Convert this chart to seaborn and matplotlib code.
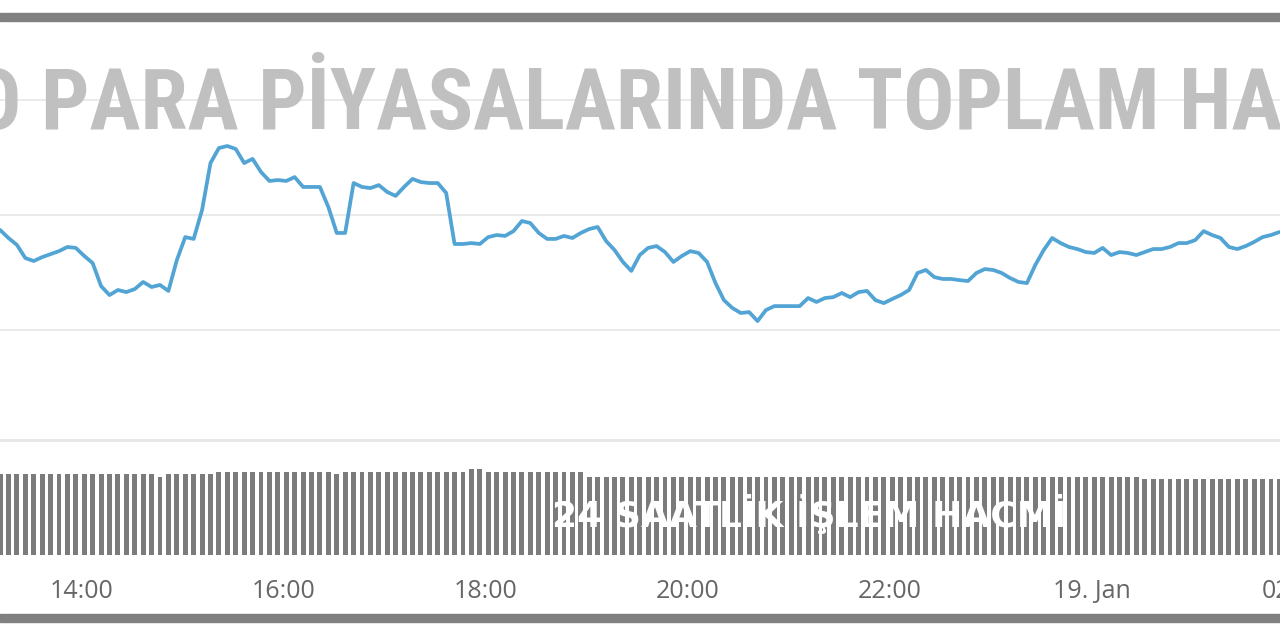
import numpy as np
import pandas as pd
import seaborn as sns
import matplotlib
matplotlib.use("Agg")
import matplotlib.pyplot as plt
from matplotlib.patches import Rectangle
from matplotlib import font_manager

# toplam piyasa degeri (milyar $), 5 dakikalik
cap_bn = [
    2043.5, 2040.0, 2037.0, 2031.3, 2030.0, 2031.7, 2033.0, 2034.3, 2036.1, 2035.7, 2032.2, 2029.1,
    2019.1, 2015.2, 2017.4, 2016.5, 2017.8, 2020.9, 2018.7, 2019.6, 2017.0, 2030.4, 2040.4, 2039.6,
    2052.2, 2072.6, 2079.1, 2080.0, 2078.7, 2072.6, 2074.4, 2068.7, 2064.8, 2065.2, 2064.8, 2066.5,
    2062.2, 2062.2, 2062.2, 2053.5, 2042.2, 2042.2, 2063.9, 2062.2, 2061.7, 2063.0, 2060.0, 2058.3,
    2062.2, 2065.7, 2064.3, 2063.9, 2063.9, 2059.6, 2037.4, 2037.4, 2037.8, 2037.4, 2040.4, 2041.3,
    2040.9, 2043.0, 2047.4, 2046.5, 2042.2, 2039.6, 2039.6, 2040.9, 2040.0, 2042.2, 2043.9, 2044.8,
    2038.7, 2034.8, 2029.6, 2025.7, 2032.6,
    2035.7, 2036.5, 2033.9, 2029.6, 2032.2, 2034.3, 2033.5, 2029.6, 2020.4, 2013.0, 2009.6, 2007.4,
    2007.8, 2003.9, 2008.7, 2010.4, 2010.4, 2010.4, 2010.4, 2013.9, 2012.2, 2013.9, 2014.3, 2016.1,
    2014.3, 2016.5, 2017.0, 2013.0, 2011.7, 2013.5, 2015.2, 2017.4, 2024.8, 2026.1, 2023.0, 2022.2,
    2022.2, 2021.7, 2021.3, 2024.8, 2026.5, 2026.1, 2024.8, 2022.6, 2020.9, 2020.4, 2028.3, 2034.8,
    2040.0, 2037.8, 2036.1, 2035.2, 2033.9, 2033.5, 2035.7, 2032.6, 2033.9, 2033.5, 2032.6, 2033.9,
    2035.2, 2035.2, 2036.1, 2037.8, 2037.8, 2039.1, 2043.0, 2041.3, 2040.0, 2036.1, 2035.2, 2036.5,
    2038.3, 2040.4, 2041.3, 2042.6,
]

# 24 saatlik islem hacmi (milyar $)
vol_bn = [
    100.0, 100.0, 100.0, 100.0, 100.0, 100.0, 100.0, 100.0, 100.0, 100.0, 100.0, 100.0,
    100.0, 100.0, 100.0, 100.0, 100.0, 100.0, 100.0, 97.1, 100.0, 100.0, 100.0, 100.0,
    100.0, 100.0, 103.2, 103.2, 103.2, 103.2, 103.2, 103.2, 103.2, 103.2, 103.2, 103.2,
    103.2, 103.2, 103.2, 103.2, 100.4, 103.2, 103.2, 103.2, 103.2, 103.2, 103.2, 103.2,
    103.2, 103.2, 103.2, 103.2, 103.2, 103.2, 103.2, 103.2, 106.2, 106.2, 103.2, 103.2,
    103.2, 103.2, 103.2, 103.2, 103.2, 103.2, 103.2, 103.2, 103.2, 103.2, 97.1, 97.1,
    97.1, 97.1, 97.1, 97.1, 97.1, 97.1, 97.1, 97.1, 97.1, 97.1, 97.1, 97.1,
    97.1, 97.1, 97.1, 97.1, 97.1, 97.1, 97.1, 97.1, 97.1, 97.1, 97.1, 97.1,
    97.1, 97.1, 97.1, 97.1, 97.1, 97.1, 97.1, 97.1, 97.1, 97.1, 97.1, 97.1,
    97.1, 97.1, 97.1, 97.1, 97.1, 97.1, 97.1, 97.1, 97.1, 97.1, 97.1, 97.1,
    97.1, 97.1, 97.1, 97.1, 97.1, 97.1, 97.1, 97.1, 97.1, 97.1, 97.1, 97.1,
    97.1, 97.1, 97.1, 97.1, 93.9, 93.9, 93.9, 93.9, 93.9, 93.9, 93.9, 93.9,
    93.9, 93.9, 93.9, 93.9, 93.9, 93.9, 93.9, 93.9, 93.9,
]

tick_times = ["2022-01-18 14:00", "2022-01-18 16:00", "2022-01-18 18:00", "2022-01-18 20:00",
              "2022-01-18 22:00", "2022-01-19 00:00", "2022-01-19 02:00"]
tick_labels = ["14:00", "16:00", "18:00", "20:00", "22:00", "19. Jan", "02:00"]

times = pd.date_range("2022-01-18 13:11:20", periods=len(cap_bn), freq="5min")
df = pd.DataFrame({"time": times, "cap": cap_bn, "vol": vol_bn})

sns.set_style("white")
plt.rcParams["font.family"] = ["Open Sans", "DejaVu Sans"]

W, H = 1280, 640
RIGHT = 1310  # eksen sag kenari (piksel), 02:00 etiketinin kesik gorunmesi icin
fig = plt.figure(figsize=(12.8, 6.4), dpi=100)
fig.patch.set_facecolor("white")

# ust panel: cizgi
ax = fig.add_axes([0, 1 - 440 / H, RIGHT / W, (440 - 22) / H])
sns.lineplot(data=df, x="time", y="cap", ax=ax, color="#52a4d4", linewidth=2.7)
ax.set_ylim(1952.2, 2133.9)
ax.set_yticks([2000, 2050, 2100])
ax.grid(axis="y", color="#e6e6e6", linewidth=1.2)
ax.grid(axis="x", visible=False)
ax.tick_params(left=False, labelleft=False, bottom=False, labelbottom=False)
for s in ["top", "left", "right"]:
    ax.spines[s].set_visible(False)
ax.spines["bottom"].set_color("#e6e6e6")
ax.spines["bottom"].set_linewidth(2)
ax.set_xlabel("")
ax.set_ylabel("")

# alt panel: hacim
axv = fig.add_axes([0, 1 - 555 / H, RIGHT / W, 97 / H], sharex=ax)
axv.bar(df["time"], df["vol"], width=2.9 / 1440, color="#7b7b7b", linewidth=0)
axv.set_ylim(0, 120)
for s in axv.spines.values():
    s.set_visible(False)
axv.set_yticks([])
axv.set_xticks(pd.to_datetime(tick_times))
axv.set_xticklabels(tick_labels)
axv.tick_params(axis="x", length=9, color="#cccccc", width=1, pad=8,
                labelsize=18, labelcolor="#666666")

t14 = pd.Timestamp("2022-01-18 14:00")
ax.set_xlim(t14 - pd.Timedelta(hours=82 / 101), t14 + pd.Timedelta(hours=(RIGHT - 82) / 101))

# filigran baslik (dar yazi tipi varsa onu kullan)
names = {f.name for f in font_manager.fontManager.ttflist}
narrow = [n for n in ["Liberation Sans Narrow", "Roboto Condensed", "Open Sans Condensed"] if n in names]
title = fig.text(626 / W, 1 - 129 / H, "O PARA PİYASALARINDA TOPLAM HA", ha="center", va="baseline",
                 fontsize=61, color="#c0c0c0", fontweight="bold", fontstretch="condensed",
                 family=narrow + ["DejaVu Sans"])
fig.canvas.draw()
w = title.get_window_extent().width
title.set_fontsize(min(66, 61 * 1312 / w))

fig.text(809 / W, 1 - 527 / H, "24 SAATLİK İŞLEM HACMİ", ha="center", va="baseline",
         fontsize=26, color="white", fontweight="bold", family=["DejaVu Sans"], zorder=10)

# cerceve cizgileri
fig.add_artist(Rectangle((0, 1 - 21 / H), 1, 8 / H, transform=fig.transFigure,
                         color="#808080", zorder=20))
fig.add_artist(Rectangle((0, 1 - 622 / H), 1, 8 / H, transform=fig.transFigure,
                         color="#808080", zorder=20))

fig.savefig("out.png", dpi=100)
